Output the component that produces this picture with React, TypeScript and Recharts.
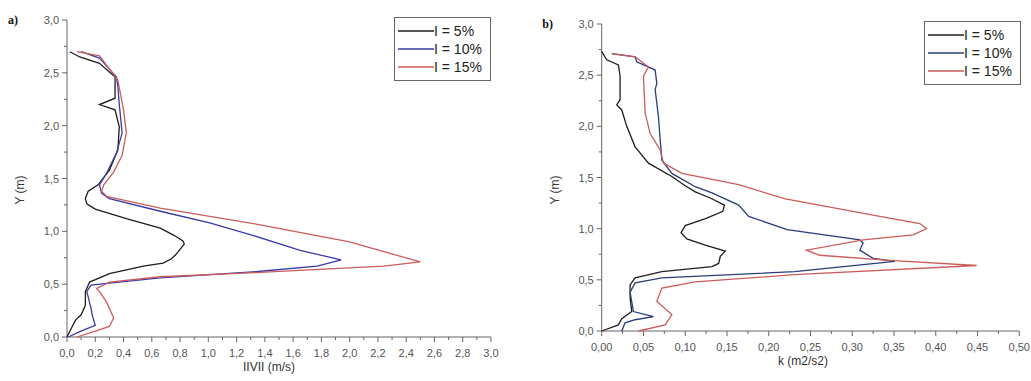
import { ScatterChart, Scatter, XAxis, YAxis, Legend, Label } from "recharts";

// series names shared by both panels
const seriesNames = ["I = 5%", "I = 10%", "I = 15%"];

// panel a) |V| (m/s) against height Y (m), points as [value, y]
const velI5: [number, number][] = [
  [0.0, 0.0], [0.03, 0.08], [0.06, 0.16], [0.1, 0.21], [0.13, 0.3], [0.13, 0.43], [0.16, 0.52],
  [0.3, 0.6], [0.54, 0.67], [0.68, 0.7], [0.74, 0.74], [0.77, 0.78], [0.8, 0.83], [0.83, 0.88],
  [0.82, 0.91], [0.76, 0.96], [0.66, 1.03], [0.42, 1.12], [0.2, 1.21], [0.14, 1.26], [0.13, 1.31],
  [0.15, 1.38], [0.22, 1.44], [0.3, 1.58], [0.36, 1.77], [0.37, 1.99], [0.34, 2.15], [0.23, 2.2],
  [0.34, 2.26], [0.34, 2.46], [0.23, 2.59], [0.09, 2.65], [0.02, 2.7],
];
const velI10: [number, number][] = [
  [0.01, 0.0], [0.09, 0.05], [0.2, 0.11], [0.18, 0.2], [0.17, 0.27], [0.15, 0.38], [0.14, 0.43],
  [0.17, 0.49], [0.3, 0.51], [0.66, 0.56], [1.35, 0.62], [1.77, 0.67], [1.94, 0.73], [1.84, 0.76],
  [1.65, 0.82], [1.32, 0.96], [1.01, 1.08], [0.66, 1.19], [0.3, 1.31], [0.245, 1.36], [0.23, 1.44],
  [0.28, 1.55], [0.35, 1.74], [0.39, 1.93], [0.37, 2.2], [0.36, 2.37], [0.35, 2.46], [0.23, 2.64],
  [0.1, 2.7],
];
const velI15: [number, number][] = [
  [0.07, 0.0], [0.19, 0.05], [0.3, 0.1], [0.33, 0.18], [0.28, 0.33], [0.23, 0.43], [0.21, 0.46],
  [0.3, 0.52], [0.66, 0.57], [1.33, 0.61], [2.24, 0.67], [2.5, 0.71], [2.0, 0.9], [1.33, 1.07],
  [0.66, 1.22], [0.28, 1.33], [0.245, 1.38], [0.26, 1.44], [0.33, 1.56], [0.39, 1.72], [0.42, 1.93],
  [0.4, 2.15], [0.36, 2.43], [0.23, 2.66], [0.07, 2.7],
];

// panel b) k (m2/s2) against height Y (m)
const kI5: [number, number][] = [
  [0.0, 0.0], [0.02, 0.06], [0.024, 0.12], [0.036, 0.19], [0.034, 0.32], [0.034, 0.45], [0.04, 0.52],
  [0.072, 0.58], [0.132, 0.63], [0.14, 0.66], [0.142, 0.73], [0.148, 0.78], [0.124, 0.84],
  [0.102, 0.9], [0.095, 0.96], [0.1, 1.03], [0.125, 1.1], [0.145, 1.17], [0.147, 1.23],
  [0.13, 1.3], [0.112, 1.36], [0.1, 1.42], [0.084, 1.51], [0.056, 1.64], [0.04, 1.8], [0.03, 2.0],
  [0.024, 2.16], [0.018, 2.21], [0.022, 2.26], [0.022, 2.49], [0.02, 2.6], [0.006, 2.65], [0.0, 2.73],
];
const kI10: [number, number][] = [
  [0.024, 0.0], [0.028, 0.08], [0.04, 0.11], [0.062, 0.14], [0.038, 0.19], [0.034, 0.38],
  [0.04, 0.47], [0.072, 0.52], [0.231, 0.58], [0.351, 0.68], [0.325, 0.71], [0.309, 0.79],
  [0.313, 0.86], [0.309, 0.89], [0.222, 0.99], [0.176, 1.12], [0.164, 1.23], [0.132, 1.35],
  [0.112, 1.41], [0.084, 1.54], [0.072, 1.67], [0.07, 1.87], [0.068, 2.09], [0.064, 2.36],
  [0.066, 2.42], [0.064, 2.55], [0.042, 2.63], [0.04, 2.68], [0.012, 2.71],
];
const kI15: [number, number][] = [
  [0.044, 0.0], [0.076, 0.06], [0.084, 0.16], [0.066, 0.29], [0.072, 0.42], [0.112, 0.48],
  [0.231, 0.55], [0.449, 0.64], [0.345, 0.69], [0.261, 0.74], [0.245, 0.79], [0.313, 0.89],
  [0.373, 0.94], [0.389, 1.0], [0.381, 1.05], [0.333, 1.12], [0.22, 1.29], [0.164, 1.43],
  [0.096, 1.54], [0.074, 1.64], [0.07, 1.77], [0.058, 1.93], [0.052, 2.13], [0.05, 2.49],
  [0.056, 2.58], [0.04, 2.68], [0.012, 2.71],
];

// ticks (every other one gets a label)
const yTicks = [0, 0.25, 0.5, 0.75, 1, 1.25, 1.5, 1.75, 2, 2.25, 2.5, 2.75, 3];
const velTicks = [
  0, 0.1, 0.2, 0.3, 0.4, 0.5, 0.6, 0.7, 0.8, 0.9, 1, 1.1, 1.2, 1.3, 1.4, 1.5, 1.6, 1.7, 1.8, 1.9,
  2, 2.1, 2.2, 2.3, 2.4, 2.5, 2.6, 2.7, 2.8, 2.9, 3,
];
const kTicks = [
  0, 0.025, 0.05, 0.075, 0.1, 0.125, 0.15, 0.175, 0.2, 0.225, 0.25, 0.275, 0.3, 0.325, 0.35,
  0.375, 0.4, 0.425, 0.45, 0.475, 0.5,
];

const toPoints = (arr: [number, number][]) => arr.map(([x, y]) => ({ x, y }));
const tickFont = "'Liberation Sans', Arial, sans-serif";
const axisColor = "#666";

const XTick = ({ x, y, payload, index, digits }: any) => {
  const major = index % 2 === 0;
  return (
    <g>
      <line x1={x} x2={x} y1={y} y2={y + (major ? 5 : 3)} stroke={axisColor} />
      {major && (
        <text x={x} y={y + 20} textAnchor="middle" fontSize={11} fill="#555" fontFamily={tickFont}>
          {payload.value.toFixed(digits).replace(".", ",")}
        </text>
      )}
    </g>
  );
};

const YTick = ({ x, y, payload, index }: any) => {
  const major = index % 2 === 0;
  return (
    <g>
      <line x1={x - (major ? 5 : 3)} x2={x} y1={y} y2={y} stroke={axisColor} />
      {major && (
        <text x={x - 8} y={y + 4} textAnchor="end" fontSize={11} fill="#555" fontFamily={tickFont}>
          {payload.value.toFixed(1).replace(".", ",")}
        </text>
      )}
    </g>
  );
};

const NoDot = () => <g />;

const LegendBox = ({ colors }: { colors: string[] }) => (
  <div
    style={{
      border: "1px solid #666",
      background: "#fff",
      padding: "4px 8px 4px 3px",
      fontFamily: tickFont,
      fontSize: 14,
      color: "#222",
      lineHeight: "18px",
    }}
  >
    {seriesNames.map((n, i) => (
      <div key={n} style={{ display: "flex", alignItems: "center" }}>
        <svg width={36} height={10}>
          <line x1={0} x2={36} y1={5} y2={5} stroke={colors[i]} strokeWidth={1.5} />
        </svg>
        <span>{n}</span>
      </div>
    ))}
  </div>
);

type PanelProps = {
  tag: string;
  series: [number, number][][];
  colors: string[];
  xTicks: number[];
  xMax: number;
  digits: number;
  xLabel: string;
  xLabelX: number;
  width: number;
  margin: { top: number; right: number; bottom: number; left: number };
  legendPos: { left: number; top: number };
};

function Panel(p: PanelProps) {
  const plotBottom = 381 - p.margin.bottom - 24;
  return (
    <ScatterChart width={p.width} height={381} margin={p.margin}>
      <XAxis
        type="number"
        dataKey="x"
        domain={[0, p.xMax]}
        ticks={p.xTicks}
        interval={0}
        tickSize={0}
        tickMargin={0}
        tickLine={false}
        height={24}
        stroke={axisColor}
        tick={(t: any) => <XTick {...t} digits={p.digits} />}
      >
        <Label
          content={() => (
            <text x={p.xLabelX} y={plotBottom + 34} textAnchor="middle" fontSize={12} fill="#333" fontFamily={tickFont}>
              {p.xLabel}
            </text>
          )}
        />
      </XAxis>
      <YAxis
        type="number"
        dataKey="y"
        domain={[0, 3]}
        ticks={yTicks}
        interval={0}
        tickSize={0}
        tickMargin={0}
        tickLine={false}
        width={40}
        stroke={axisColor}
        tick={<YTick />}
      >
        <Label
          content={() => (
            <g>
              <text
                transform={`translate(${p.margin.left - 3},190) rotate(-90)`}
                textAnchor="middle"
                fontSize={12}
                fill="#333"
                fontFamily={tickFont}
              >
                Y (m)
              </text>
              <text
                x={p.margin.left - 14}
                y={p.margin.top + 4}
                textAnchor="middle"
                fontSize={12}
                fontWeight="bold"
                fill="#111"
                fontFamily="'Liberation Serif', 'Times New Roman', serif"
              >
                {p.tag}
              </text>
            </g>
          )}
        />
      </YAxis>
      <Legend
        layout="vertical"
        align="center"
        verticalAlign="middle"
        wrapperStyle={{ position: "absolute", left: p.legendPos.left, top: p.legendPos.top, width: "auto" }}
        content={() => <LegendBox colors={p.colors} />}
      />
      {p.series.map((s, i) => (
        <Scatter
          key={seriesNames[i]}
          name={seriesNames[i]}
          data={toPoints(s)}
          fill={p.colors[i]}
          stroke={p.colors[i]}
          line={{ stroke: p.colors[i], strokeWidth: 1.3 }}
          lineType="joint"
          shape={NoDot}
          isAnimationActive={false}
        />
      ))}
    </ScatterChart>
  );
}

export default function App() {
  return (
    <div style={{ position: "absolute", left: 0, top: 0, width: 1031, height: 381, background: "#fff" }}>
      <div style={{ position: "absolute", left: 0, top: 0 }}>
        <Panel
          tag="a)"
          series={[velI5, velI10, velI15]}
          colors={["#1e1e1e", "#3a3aa6", "#cc5c5c"]}
          xTicks={velTicks}
          xMax={3}
          digits={1}
          xLabel="IIVII (m/s)"
          xLabelX={269}
          width={520}
          margin={{ top: 20, right: 29, bottom: 20, left: 27 }}
          legendPos={{ left: 394, top: 17 }}
        />
      </div>
      <div style={{ position: "absolute", left: 520, top: 0 }}>
        <Panel
          tag="b)"
          series={[kI5, kI10, kI15]}
          colors={["#1e1e1e", "#2a3c7c", "#cc5c5c"]}
          xTicks={kTicks}
          xMax={0.5}
          digits={2}
          xLabel="k (m2/s2)"
          xLabelX={283}
          width={511}
          margin={{ top: 24, right: 11.7, bottom: 26, left: 41.7 }}
          legendPos={{ left: 404, top: 21 }}
        />
      </div>
    </div>
  );
}
